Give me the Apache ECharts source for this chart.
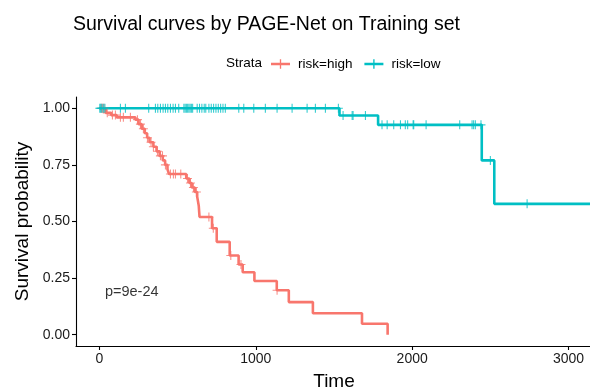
<!DOCTYPE html>
<html>
<head>
<meta charset="utf-8">
<script src="https://cdn.jsdelivr.net/npm/echarts@6/dist/echarts.min.js"></script>
<style>html,body{margin:0;padding:0;background:#fff}#c{width:590px;height:392px}</style>
</head>
<body>
<div id="c"></div>
<script>
// ---- data ----
const titleText = 'Survival curves by PAGE-Net on Training set';
const strataTitle = 'Strata';
const seriesNames = ['risk=high', 'risk=low'];
const pText = 'p=9e-24';
const pPos = [35, 0.19];
const xTicks = [0, 1000, 2000, 3000];
const yTicks = [0, 0.25, 0.5, 0.75, 1.0];

const highTimes = [0, 40, 75, 110, 230, 250, 270, 290, 305, 320, 345, 365, 385, 405, 420, 435, 445, 555, 575, 590, 610, 625, 635, 640, 720, 750, 833, 890, 916, 991, 1134, 1211, 1365, 1679, 1843];
const highSurv  = [1.00, 0.98, 0.97, 0.96, 0.95, 0.93, 0.91, 0.89, 0.87, 0.85, 0.83, 0.81, 0.79, 0.77, 0.75, 0.73, 0.71, 0.69, 0.67, 0.65, 0.63, 0.61, 0.57, 0.52, 0.47, 0.41, 0.35, 0.31, 0.276, 0.237, 0.196, 0.144, 0.095, 0.048, 0.00];
const highCensor = [12, 20, 30, 50, 83, 102, 134, 153, 198, 243, 262, 281, 307, 330, 345, 371, 390, 403, 422, 454, 473, 486, 520, 563, 582, 601, 620, 700, 728, 840, 905, 1136];

const lowTimes = [0, 1535, 1782, 2445, 2525, 3150];
const lowSurv  = [1.00, 0.968, 0.927, 0.77, 0.578, 0.578];
const lowCensor = [2, 8, 15, 25, 35, 134, 166, 315, 358, 373, 390, 407, 422, 437, 454, 471, 486, 507, 540, 548, 556, 564, 572, 580, 588, 596, 625, 640, 655, 670, 680, 700, 715, 730, 745, 760, 775, 790, 805, 891, 923, 987, 1061, 1136, 1232, 1328, 1381, 1445, 1528, 1558, 1616, 1622, 1701, 1807, 1840, 1882, 1925, 1956, 1971, 2006, 2010, 2089, 2304, 2383, 2393, 2404, 2440, 2500, 2735];

// ---- helpers ----
const colors = ['#F8766D', '#00BFC4'];
const FONT = "'Liberation Sans', Arial, Helvetica, sans-serif";
function survAt(times, surv, t) {
  let s = surv[0];
  for (let i = 0; i < times.length; i++) { if (times[i] <= t) s = surv[i]; }
  return s;
}
const pair = (ts, ss) => ts.map((t, i) => [t, ss[i]]);
const censorPts = (cs, ts, ss) => cs.map(t => [t, survAt(ts, ss, t)]);
const plusPath = 'path://M-5,-0.6H5V0.6H-5Z M-0.6,-5H0.6V5H-0.6Z';
const legendPlus = 'path://M0,3.8H20V6.2H0Z M9.3,0H10.7V10H9.3Z';

const chart = echarts.init(document.getElementById('c'), null, {renderer: 'canvas'});
chart.setOption({
  animation: false,
  backgroundColor: '#fff',
  textStyle: {fontFamily: FONT},
  title: {
    text: titleText, left: 68, top: 10,
    textStyle: {fontFamily: FONT, fontSize: 19.5, fontWeight: 'normal', color: '#000'}
  },
  graphic: [{
    type: 'text', left: 226, top: 56,
    style: {text: strataTitle, font: "13.5px 'Liberation Sans', Arial, sans-serif", fill: '#000'}
  }],
  legend: {
    data: seriesNames, left: 266, top: 52,
    itemWidth: 19, itemHeight: 10, itemGap: 12,
    icon: legendPlus,
    textStyle: {fontFamily: FONT, fontSize: 13.5, color: '#000', padding: [0, 0, 0, 3]}
  },
  grid: {left: 76, right: -2, top: 97, bottom: 46, containLabel: false, outerBoundsMode: 'none'},
  xAxis: {
    type: 'value', min: -150, max: 3150,
    name: 'Time', nameLocation: 'middle', nameGap: 26,
    nameTextStyle: {fontFamily: FONT, fontSize: 19, color: '#000'},
    axisLine: {show: true, onZero: false, lineStyle: {color: '#000', width: 1.1}},
    axisTick: {show: true, length: 4, customValues: xTicks, lineStyle: {color: '#000', width: 1.1}},
    axisLabel: {customValues: xTicks, fontFamily: FONT, fontSize: 14, color: '#1a1a1a', margin: 6,
      formatter: v => String(v)},
    splitLine: {show: false}
  },
  yAxis: {
    type: 'value', min: -0.05, max: 1.05,
    name: 'Survival probability', nameLocation: 'middle', nameGap: 44, nameRotate: 90,
    nameTextStyle: {fontFamily: FONT, fontSize: 19, color: '#000'},
    axisLine: {show: true, onZero: false, lineStyle: {color: '#000', width: 1.1}},
    axisTick: {show: true, length: 4, customValues: yTicks, lineStyle: {color: '#000', width: 1.1}},
    axisLabel: {customValues: yTicks, fontFamily: FONT, fontSize: 14, color: '#1a1a1a', margin: 6,
      formatter: v => v.toFixed(2)},
    splitLine: {show: false}
  },
  series: [
    {name: seriesNames[0], type: 'line', step: 'end', data: pair(highTimes, highSurv),
     symbol: 'none', itemStyle: {color: colors[0]}, lineStyle: {color: colors[0], width: 2.6}, z: 2},
    {name: seriesNames[1], type: 'line', step: 'end', data: pair(lowTimes, lowSurv),
     symbol: 'none', itemStyle: {color: colors[1]}, lineStyle: {color: colors[1], width: 2.6}, z: 2},
    {name: 'cens-high', type: 'scatter', data: censorPts(highCensor, highTimes, highSurv),
     symbol: plusPath, symbolSize: 9, itemStyle: {color: colors[0]}, z: 3},
    {name: 'cens-low', type: 'scatter', data: censorPts(lowCensor, lowTimes, lowSurv),
     symbol: plusPath, symbolSize: 9, itemStyle: {color: colors[1]}, z: 3},
    {name: 'pval', type: 'scatter', data: [pPos], symbolSize: 0, silent: true,
     label: {show: true, position: 'right', distance: 0, formatter: pText,
       fontFamily: FONT, fontSize: 14.5, color: '#000'}}
  ]
});
</script>
</body>
</html>
